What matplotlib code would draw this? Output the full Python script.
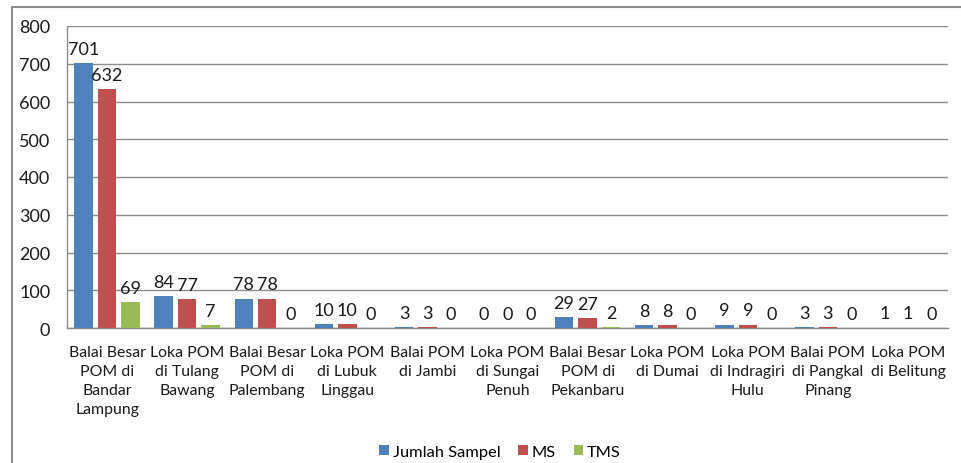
import matplotlib
matplotlib.use("Agg")
import matplotlib.pyplot as plt
import numpy as np
from matplotlib.lines import Line2D
from matplotlib.patches import Patch

categories = ["Balai Besar\nPOM di\nBandar\nLampung", "Loka POM\ndi Tulang\nBawang",
              "Balai Besar\nPOM di\nPalembang", "Loka POM\ndi Lubuk\nLinggau",
              "Balai POM\ndi Jambi", "Loka POM\ndi Sungai\nPenuh",
              "Balai Besar\nPOM di\nPekanbaru", "Loka POM\ndi Dumai",
              "Loka POM\ndi Indragiri\nHulu", "Balai POM\ndi Pangkal\nPinang",
              "Loka POM\ndi Belitung"]
jumlah_sampel = [701, 84, 78, 10, 3, 0, 29, 8, 9, 3, 1]
ms = [632, 77, 78, 10, 3, 0, 27, 8, 9, 3, 1]
tms = [69, 7, 0, 0, 0, 0, 2, 0, 0, 0, 0]
series_names = ["Jumlah Sampel", "MS", "TMS"]
colors = ["#4F81BD", "#C0504D", "#9BBB59"]
yticks = [0, 100, 200, 300, 400, 500, 600, 700, 800]

plt.rcParams['font.family'] = ['Lato', 'DejaVu Sans']
FS_TXT = 11.4
FS_NUM = 13
TXT = "#1a1a1a"
fig = plt.figure(figsize=(9.61, 4.64), dpi=100)
ax = fig.add_axes([67/961, 1-329/464, (948-67)/961, (329-27)/464])

x = np.arange(len(categories))
pitch = 0.293
width = 0.231
for i, (vals, c) in enumerate(zip([jumlah_sampel, ms, tms], colors)):
    pos = x + (i - 1) * pitch
    ax.bar(pos, vals, width=width, color=c, zorder=3)
    for p, v in zip(pos, vals):
        ax.annotate(str(v), (p, v), xytext=(0, 4.5), textcoords="offset points",
                    ha="center", va="bottom", fontsize=FS_NUM, color=TXT)

ax.set_xlim(-0.5, len(categories) - 0.5)
ax.set_ylim(0, 800)
ax.set_yticks(yticks)
ax.set_yticklabels([str(t) for t in yticks], fontsize=FS_NUM, color=TXT)
ax.set_xticks(x)
ax.set_xticklabels(categories, fontsize=FS_TXT, color=TXT, linespacing=1.45)
ax.tick_params(axis="x", length=0, pad=12)
ax.tick_params(axis="y", length=0, pad=12)
ax.grid(axis="y", color="#8c8c8c", linewidth=1, zorder=0)
for s in ["top", "right"]:
    ax.spines[s].set_visible(False)
for s in ["left", "bottom"]:
    ax.spines[s].set_color("#8c8c8c")
    ax.spines[s].set_linewidth(1)

handles = [Patch(facecolor=c, edgecolor="none") for c in colors]
fig.legend(handles, series_names, loc="center", bbox_to_anchor=(500/961, 1-453/464),
           ncol=3, frameon=False, fontsize=11.8, handlelength=0.6, handleheight=0.6,
           handletextpad=0.2, columnspacing=1.1)

# outer chart border
fig.add_artist(Line2D([12/961, 1], [1-8/464, 1-8/464], color="#8c8c8c", linewidth=1.5))
fig.add_artist(Line2D([12/961, 12/961], [0, 1-8/464], color="#8c8c8c", linewidth=1.5))

fig.savefig("out.png", dpi=100)
